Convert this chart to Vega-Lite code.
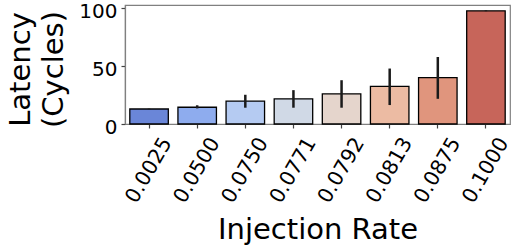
{
  "$schema": "https://vega.github.io/schema/vega-lite/v6.json",
  "width": 385,
  "height": 119,
  "autosize": {"type": "none"},
  "padding": {"left": 125, "top": 5, "right": 3, "bottom": 123},
  "config": {
    "view": {"stroke": "#808080", "strokeWidth": 1.2},
    "font": "DejaVu Sans",
    "axis": {"labelFont": "DejaVu Sans", "titleFont": "DejaVu Sans"}
  },
  "data": {
    "values": [
      {"rate": "0.0025", "latency": 13.0, "lo": 12.7, "hi": 13.3},
      {"rate": "0.0500", "latency": 14.5, "lo": 13.5, "hi": 16.2},
      {"rate": "0.0750", "latency": 19.8, "lo": 14.1, "hi": 25.3},
      {"rate": "0.0771", "latency": 21.8, "lo": 14.1, "hi": 29.3},
      {"rate": "0.0792", "latency": 26.1, "lo": 14.1, "hi": 37.9},
      {"rate": "0.0813", "latency": 32.5, "lo": 16.4, "hi": 48.0},
      {"rate": "0.0875", "latency": 40.2, "lo": 21.8, "hi": 58.0},
      {"rate": "0.1000", "latency": 98.0, "lo": 97.6, "hi": 98.4}
    ]
  },
  "encoding": {
    "x": {
      "field": "rate",
      "type": "ordinal",
      "sort": null,
      "scale": {"paddingInner": 0.2, "paddingOuter": 0.1},
      "axis": {
        "labelAngle": -60,
        "labelAlign": "center",
        "labelBaseline": "middle",
        "labelPadding": 42,
        "labelFontSize": 20.5,
        "labelColor": "black",
        "labelOverlap": false,
        "labelBound": false,
        "tickSize": 4,
        "tickColor": "#444",
        "tickWidth": 1.2,
        "domainColor": "#808080",
        "domainWidth": 1.2,
        "title": "Injection Rate",
        "titleFontSize": 29,
        "titleFontWeight": "normal",
        "titleColor": "black",
        "titleBaseline": "alphabetic",
        "titleAlign": "center",
        "titleX": 192.5,
        "titleY": 114
      }
    }
  },
  "layer": [
    {
      "mark": {"type": "bar", "stroke": "black", "strokeWidth": 1.3},
      "encoding": {
        "y": {
          "field": "latency",
          "type": "quantitative",
          "scale": {"domain": [0, 103], "nice": false},
          "axis": {
            "values": [0, 50, 100],
            "grid": false,
            "labelFontSize": 20,
            "labelColor": "black",
            "labelPadding": 4,
            "labelOffset": 3,
            "tickSize": 4,
            "tickColor": "#444",
            "tickWidth": 1.2,
            "domainColor": "#808080",
            "domainWidth": 1.2,
            "title": ["Latency", "(Cycles)"],
            "titleFontSize": 29,
            "titleFontWeight": "normal",
            "titleColor": "black",
            "titleAngle": 270,
            "titleAlign": "center",
            "titleBaseline": "alphabetic",
            "titleLineHeight": 33,
            "titleX": -96,
            "titleY": 64
          }
        },
        "color": {
          "field": "rate",
          "type": "ordinal",
          "sort": null,
          "legend": null,
          "scale": {"range": ["#6a86d8", "#8eacee", "#b5cbf2", "#d0d9e6", "#e5d5cc", "#ecbba3", "#e0957d", "#c7655a"]}
        }
      }
    },
    {
      "mark": {"type": "rule", "color": "#1a1a1a", "strokeWidth": 2.5},
      "encoding": {
        "y": {"field": "lo", "type": "quantitative"},
        "y2": {"field": "hi"}
      }
    }
  ]
}
